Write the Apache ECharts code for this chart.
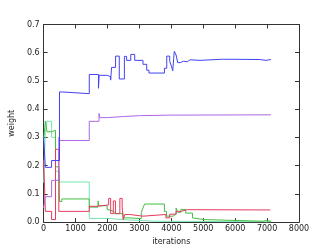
<!DOCTYPE html>
<html><head><meta charset="utf-8">
<script src="https://cdn.jsdelivr.net/npm/echarts@6/dist/echarts.min.js"></script>
<style>html,body{margin:0;padding:0;background:#fff}#c{width:332px;height:251px}</style>
</head><body><div id="c"></div>
<script>
const xTicks = [0,1000,2000,3000,4000,5000,6000,7000,8000];
const yTicks = [0.0,0.1,0.2,0.3,0.4,0.5,0.6,0.7];
const blue = [[0,0.30],[55,0.194],[250,0.218],[497,0.461],[580,0.455],[1430,0.523],[1718,0.474],[1740,0.52],[1990,0.515],[2099,0.503],[2130,0.548],[2254,0.588],[2370,0.507],[2530,0.587],[2600,0.573],[2730,0.594],[2853,0.573],[3113,0.559],[3230,0.538],[3300,0.528],[3784,0.545],[3857,0.588],[3950,0.57],[4010,0.55],[4045,0.536],[4075,0.58],[4093,0.605],[4150,0.592],[4200,0.565],[4280,0.57],[4385,0.568],[4500,0.575],[4590,0.573],[4900,0.577],[5600,0.576],[6760,0.573],[6970,0.576],[7120,0.576]];
const violet = [[0,0.05],[55,0.09],[250,0.148],[476,0.30],[517,0.289],[1430,0.357],[1735,0.385],[1760,0.37],[2000,0.374],[2500,0.377],[3000,0.379],[4000,0.38],[7120,0.38]];
const aqua = [[0,0.14],[55,0.32],[105,0.357],[250,0.30],[373,0.18],[497,0.142],[1430,0.013],[2000,0.008],[2600,0.003],[3500,0.001],[7120,0.0]];
const green = [[0,0.29],[55,0.358],[105,0.32],[250,0.325],[373,0.196],[476,0.20],[497,0.073],[570,0.082],[1430,0.053],[1705,0.075],[1725,0.058],[1990,0.045],[2050,0.038],[2200,0.03],[2490,0.015],[2700,0.012],[3060,0.035],[3113,0.05],[3163,0.064],[3784,0.038],[3850,0.021],[4050,0.028],[4150,0.05],[4200,0.035],[4300,0.045],[4450,0.032],[4663,0.015],[4713,0.009],[5023,0.003],[6880,0.006],[6950,0.003],[7120,0.003]];
const red = [[0,0.22],[55,0.038],[250,0.009],[373,0.258],[476,0.038],[1430,0.056],[1670,0.061],[2037,0.084],[2100,0.03],[2183,0.075],[2250,0.03],[2388,0.084],[2460,0.055],[2492,0.009],[2543,0.027],[2697,0.021],[3113,0.027],[3830,0.015],[3950,0.028],[4150,0.038],[4300,0.044],[4500,0.048],[4550,0.043],[7100,0.042]];

const font = 'DejaVu Sans';
const axLine = {show:true, onZero:false, lineStyle:{color:'#333', width:1}};
const tick = {show:true, inside:true, length:4, lineStyle:{color:'#333'}};
const chart = echarts.init(document.getElementById('c'), null, {renderer:'canvas'});
function ser(data, color){
  return {type:'line', data:data, step:'end', showSymbol:false, symbol:'none',
    lineStyle:{color:color, width:1}, itemStyle:{color:color}, animation:false};
}
chart.setOption({
  backgroundColor:'#fff',
  animation:false,
  grid:{left:41, right:33, top:24.5, bottom:25},
  xAxis:[
    {type:'value', min:0, max:8000, interval:1000, position:'bottom',
     name:'iterations', nameLocation:'middle', nameGap:11,
     nameTextStyle:{fontFamily:font, fontSize:8, color:'#222'},
     axisLine:axLine, axisTick:tick, splitLine:{show:false},
     axisLabel:{fontFamily:font, fontSize:8, color:'#222', margin:3, formatter:v=>String(v)}},
    {type:'value', min:0, max:8000, interval:1000, position:'top',
     axisLine:axLine, axisTick:tick, splitLine:{show:false}, axisLabel:{show:false}}
  ],
  yAxis:[
    {type:'value', min:0, max:0.7, interval:0.1, position:'left',
     name:'weight', nameLocation:'middle', nameGap:17,
     nameTextStyle:{fontFamily:font, fontSize:8, color:'#222'},
     axisLine:axLine, axisTick:tick, splitLine:{show:false},
     axisLabel:{fontFamily:font, fontSize:8, color:'#222', margin:4, formatter:v=>v.toFixed(1)}},
    {type:'value', min:0, max:0.7, interval:0.1, position:'right',
     axisLine:axLine, axisTick:tick, splitLine:{show:false}, axisLabel:{show:false}}
  ],
  series:[
    ser(aqua,'#74e6b0'),
    ser(green,'#44bd44'),
    ser(red,'#e63a5c'),
    ser(violet,'#ac68e6'),
    ser(blue,'#4242f4')
  ]
});
</script></body></html>
